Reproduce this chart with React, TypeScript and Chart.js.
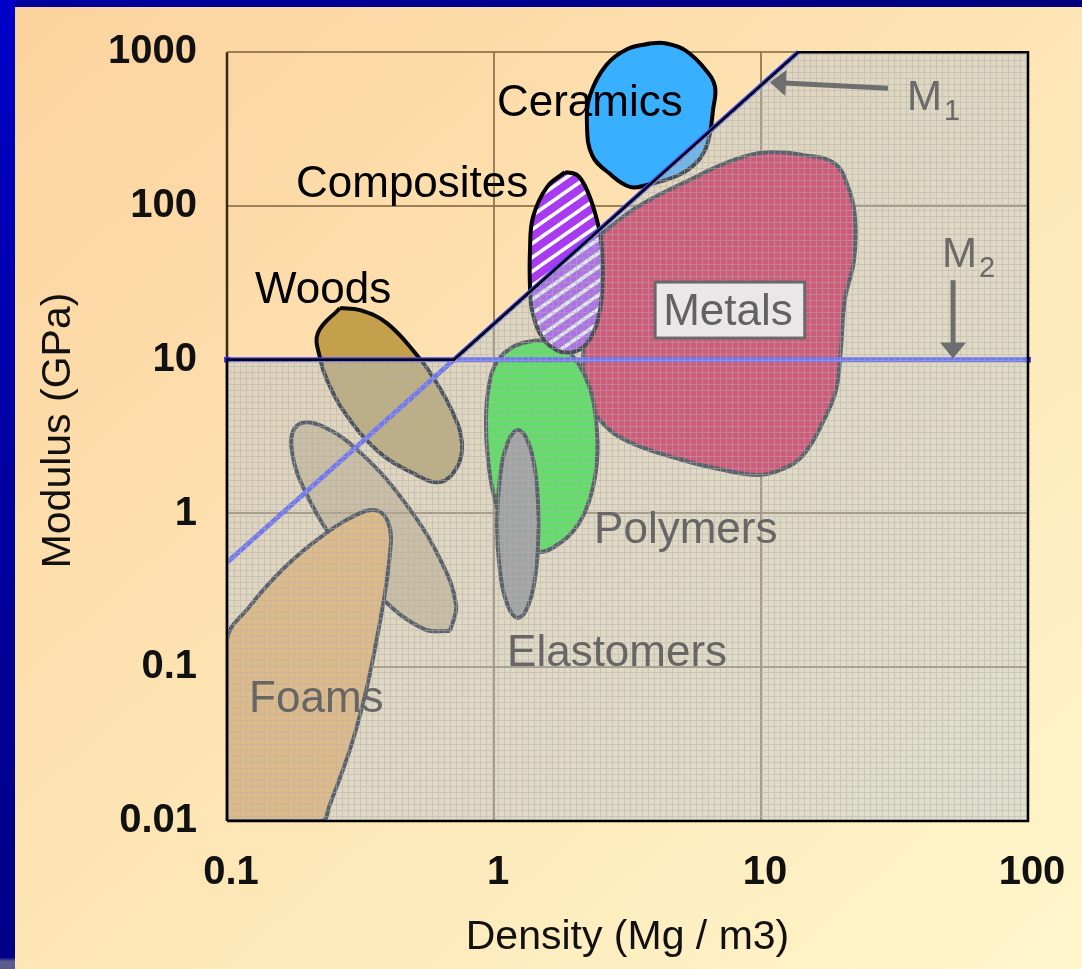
import { useEffect, useRef } from 'react';
import { Chart, registerables } from 'chart.js';

Chart.register(...registerables);

// ---------- axis ticks ----------
const xTicks = [0.1, 1, 10, 100];
const xTickLabels = ['0.1', '1', '10', '100'];
const yTicks = [0.01, 0.1, 1, 10, 100, 1000];
const yTickLabels = ['0.01', '0.1', '1', '10', '100', '1000'];

// ---------- material regions: [density (Mg/m3), modulus (GPa)] ----------
const ceramics: [number, number][] = [
  [3.87, 1144], [4.37, 1144], [5.19, 1030], [6.22, 764], [6.73, 592], [6.61, 420], [6.44, 297],
  [6.22, 238], [5.76, 193], [4.93, 159], [3.74, 137], [3.23, 133], [2.7, 163], [2.33, 214],
  [2.23, 335], [2.29, 525], [2.63, 823], [3.15, 1046],
];
const composites: [number, number][] = [
  [1.845, 166], [1.579, 132.5], [1.4, 84.6], [1.364, 51.6], [1.364, 29.6], [1.388, 21.0],
  [1.513, 14.0], [1.722, 11.5], [1.976, 11.2], [2.23, 12.8], [2.43, 17.3], [2.54, 27.1],
  [2.54, 51.6], [2.43, 80.9], [2.23, 126.7], [2.05, 158.6],
];
const woods: [number, number][] = [
  [0.265, 21.7], [0.219, 14.9], [0.223, 10.24], [0.237, 7.37], [0.272, 4.7], [0.364, 2.58],
  [0.497, 1.83], [0.628, 1.6], [0.727, 2.0], [0.759, 2.87], [0.702, 4.5], [0.591, 7.71],
  [0.515, 10.7], [0.397, 17.3], [0.315, 21.0],
];
const woodsAcross: [number, number][] = [
  [0.684, 0.172], [0.547, 0.177], [0.387, 0.273], [0.27, 0.561], [0.201, 1.28], [0.175, 2.55],
  [0.184, 3.76], [0.231, 3.65], [0.326, 2.36], [0.468, 1.15], [0.628, 0.505], [0.721, 0.254],
];
const foams: [number, number][] = [
  [0.1, 0.01], [0.1, 0.15], [0.121, 0.246], [0.1635, 0.442], [0.227, 0.713], [0.315, 1.006],
  [0.368, 1.04], [0.401, 0.879], [0.411, 0.642], [0.377, 0.212], [0.307, 0.0415],
  [0.241, 0.0123], [0.227, 0.01],
];
const polymers: [number, number][] = [
  [1.449, 13.4], [1.692, 12.8], [1.96, 10.7], [2.25, 7.05], [2.41, 4.05], [2.43, 2.16],
  [2.27, 1.2], [2.01, 0.792], [1.678, 0.605], [1.487, 0.561], [1.273, 0.596], [1.119, 0.78],
  [1.009, 1.22], [0.95, 2.22], [0.933, 4.05], [0.958, 6.84], [1.035, 9.94], [1.199, 12.3],
];
const elastomers: [number, number][] = [
  [1.474, 0.853], [1.436, 1.725], [1.346, 2.87], [1.23, 3.49], [1.124, 2.87], [1.053, 1.725],
  [1.026, 0.853], [1.053, 0.422], [1.124, 0.254], [1.23, 0.209], [1.346, 0.254], [1.436, 0.422],
];
const metals: [number, number][] = [
  [2.54, 66.5], [3.43, 98.2], [5.37, 147], [7.92, 199], [10.7, 224], [14.4, 214], [18.8, 190],
  [21.2, 133], [22.5, 84.6], [22.3, 44.4], [20.6, 24.4], [19.9, 11.5], [19.1, 6.34], [17.2, 4.05],
  [14.4, 2.4], [12.0, 1.94], [9.74, 1.78], [7.02, 1.94], [4.93, 2.26], [3.15, 2.96], [2.49, 4.05],
  [2.19, 6.34], [2.19, 15.6], [2.33, 38.2],
];

// ---------- selection lines ----------
const m1Line: [number, number][] = [[0.1, 0.48], [13.8, 1000]];
const m2Line: [number, number][] = [[0.1, 10], [100, 10]];
const shadedRegion: [number, number][] = [
  [0.1, 0.01], [0.1, 10], [0.708, 10], [13.8, 1000], [100, 1000], [100, 0.01],
];

// ---------- text annotations (data coordinates) ----------
const BLACK = '#000000';
const GREY = '#666666';
const regionLabels = [
  { text: 'Ceramics', x: 1.026, y: 384, color: BLACK },
  { text: 'Composites', x: 0.1813, y: 114, color: BLACK },
  { text: 'Woods', x: 0.1273, y: 23.3, color: BLACK },
  { text: 'Polymers', x: 2.37, y: 0.642, color: GREY },
  { text: 'Elastomers', x: 1.119, y: 0.1018, color: GREY },
  { text: 'Foams', x: 0.121, y: 0.0511, color: GREY },
];
const metalsLabel = { text: 'Metals', x: 4.3, y: 16.8 };
const m1Label = { text: 'M', sub: '1', x: 35.2, y: 420 };
const m2Label = { text: 'M', sub: '2', x: 47.6, y: 40.0 };
const m1Arrow = { from: [29.9, 583], to: [10.8, 638] };
const m2Arrow = { from: [52.4, 32.9], to: [52.4, 10.2] };

const FONT = '"Liberation Sans", Arial, Helvetica, sans-serif';

const toXY = (pts: [number, number][]) => pts.map(([x, y]) => ({ x, y }));
const closed = (pts: [number, number][]) => {
  const p = toXY(pts);
  return [...p, { ...p[0] }];
};

function makeHatch(): CanvasPattern | string {
  const c = document.createElement('canvas');
  c.width = 6;
  c.height = 6;
  const g = c.getContext('2d');
  if (!g) return 'rgba(180,196,212,0.4)';
  g.fillStyle = 'rgba(180,196,212,0.4)';
  g.fillRect(0, 0, 6, 6);
  g.fillStyle = 'rgba(176,176,176,0.5)';
  g.fillRect(0, 0, 6, 1);
  g.fillRect(0, 1, 1, 5);
  return g.createPattern(c, 'repeat') || 'rgba(180,196,212,0.4)';
}

function makeStripes(): CanvasPattern | string {
  const w = 20, h = 14;
  const c = document.createElement('canvas');
  c.width = w;
  c.height = h;
  const g = c.getContext('2d');
  if (!g) return 'rgb(168,58,240)';
  g.fillStyle = 'rgb(168,58,240)';
  g.fillRect(0, 0, w, h);
  g.strokeStyle = '#ffffff';
  g.lineWidth = 3.5;
  for (const dx of [-w, 0, w]) {
    for (const dy of [-h, 0, h]) {
      g.beginPath();
      g.moveTo(dx, h + dy);
      g.lineTo(w + dx, dy);
      g.stroke();
    }
  }
  return g.createPattern(c, 'repeat') || 'rgb(168,58,240)';
}

const gridPlugin = {
  id: 'manualGrid',
  beforeDatasetsDraw(chart: any) {
    const { ctx } = chart;
    const xs = chart.scales.x;
    const ys = chart.scales.y;
    const top = ys.getPixelForValue(1000);
    const bottom = ys.getPixelForValue(0.01);
    const left = xs.getPixelForValue(0.1);
    const right = xs.getPixelForValue(100);
    ctx.save();
    ctx.lineWidth = 2;
    for (const v of yTicks) {
      const p = Math.round(ys.getPixelForValue(v));
      ctx.strokeStyle = 'rgba(140,112,72,0.85)';
      ctx.beginPath();
      ctx.moveTo(left, p);
      ctx.lineTo(right, p);
      ctx.stroke();
    }
    for (const v of xTicks) {
      const p = Math.round(xs.getPixelForValue(v));
      ctx.strokeStyle = v === 0.1 ? '#3a2a14' : 'rgba(140,112,72,0.85)';
      ctx.lineWidth = v === 0.1 ? 2.5 : 2;
      ctx.beginPath();
      ctx.moveTo(p, top);
      ctx.lineTo(p, bottom);
      ctx.stroke();
    }
    ctx.restore();
  },
};

function drawArrow(ctx: CanvasRenderingContext2D, x0: number, y0: number, x1: number, y1: number) {
  const dx = x1 - x0, dy = y1 - y0;
  const len = Math.hypot(dx, dy);
  const ux = dx / len, uy = dy / len;
  const hl = 16, hw = 13;
  const bx = x1 - ux * hl, by = y1 - uy * hl;
  ctx.beginPath();
  ctx.moveTo(x0, y0);
  ctx.lineTo(bx + ux * 2, by + uy * 2);
  ctx.stroke();
  ctx.beginPath();
  ctx.moveTo(x1, y1);
  ctx.lineTo(bx - uy * hw, by + ux * hw);
  ctx.lineTo(bx + uy * hw, by - ux * hw);
  ctx.closePath();
  ctx.fill();
}

const annotationPlugin = {
  id: 'annotations',
  afterDatasetsDraw(chart: any) {
    const { ctx } = chart;
    const xs = chart.scales.x;
    const ys = chart.scales.y;
    const px = (v: number) => xs.getPixelForValue(v);
    const py = (v: number) => ys.getPixelForValue(v);
    ctx.save();
    ctx.textAlign = 'left';
    ctx.textBaseline = 'alphabetic';

    // Metals label with box
    ctx.font = `44px ${FONT}`;
    const mx = px(metalsLabel.x);
    const my = py(metalsLabel.y);
    const mw = ctx.measureText(metalsLabel.text).width;
    ctx.fillStyle = 'rgba(236,236,236,0.96)';
    ctx.fillRect(mx - 8, my - 43, mw + 20, 56);
    ctx.strokeStyle = '#6a6a6a';
    ctx.lineWidth = 3;
    ctx.strokeRect(mx - 8, my - 43, mw + 20, 56);
    ctx.fillStyle = '#626262';
    ctx.fillText(metalsLabel.text, mx, my);

    for (const l of regionLabels) {
      ctx.font = `44px ${FONT}`;
      ctx.fillStyle = l.color;
      ctx.fillText(l.text, px(l.x), py(l.y));
    }

    // M1 / M2 labels
    for (const m of [m1Label, m2Label]) {
      const x = px(m.x), y = py(m.y);
      ctx.font = `42px ${FONT}`;
      ctx.fillStyle = '#6a6a6a';
      ctx.fillText(m.text, x, y);
      const w = ctx.measureText(m.text).width;
      ctx.font = `29px ${FONT}`;
      ctx.fillText(m.sub, x + w + 2, y + 10);
    }

    // arrows
    ctx.strokeStyle = '#6e6e6e';
    ctx.fillStyle = '#6e6e6e';
    ctx.lineWidth = 5;
    for (const a of [m1Arrow, m2Arrow]) {
      drawArrow(ctx, px(a.from[0]), py(a.from[1]), px(a.to[0]), py(a.to[1]));
    }
    ctx.restore();
  },
};

export default function App() {
  const ref = useRef<HTMLCanvasElement>(null);

  useEffect(() => {
    const canvas = ref.current;
    if (!canvas) return;
    const hatch = makeHatch();
    const stripes = makeStripes();

    const blob = (label: string, pts: [number, number][], fill: any, border: string, order: number, extra: any = {}) => ({
      label,
      data: closed(pts),
      showLine: true,
      fill: 'shape',
      backgroundColor: fill,
      borderColor: border,
      borderWidth: 4,
      tension: 0.4,
      pointRadius: 0,
      pointHoverRadius: 0,
      borderJoinStyle: 'round',
      order,
      ...extra,
    });

    const invisibleGrid = (len: number) => ({
      display: true,
      drawOnChartArea: false,
      drawTicks: true,
      tickLength: len,
      color: 'rgba(0,0,0,0)',
    });

    const chart = new Chart(canvas, {
      type: 'scatter',
      data: {
        datasets: [
          blob('Metals', metals, 'rgb(226,22,62)', '#222222', 12),
          blob('Woods', woods, 'rgba(190,152,65,0.9)', '#0a0a0a', 11),
          blob('Woods (across grain)', woodsAcross, 'rgba(185,155,95,0.55)', '#222222', 10),
          blob('Foams', foams, 'rgb(252,180,88)', '#222222', 9),
          blob('Polymers', polymers, 'rgb(40,242,30)', '#222222', 8),
          blob('Elastomers', elastomers, 'rgb(150,143,130)', '#222222', 7),
          blob('Composites', composites, stripes, '#000000', 6),
          blob('Ceramics', ceramics, 'rgb(56,176,255)', '#000000', 5, { clip: false }),
          {
            label: 'M1',
            data: toXY(m1Line),
            showLine: true,
            fill: false,
            borderColor: 'rgb(70,70,255)',
            borderWidth: 5,
            pointRadius: 0,
            order: 4,
          },
          {
            label: 'M2',
            data: toXY(m2Line),
            showLine: true,
            fill: false,
            borderColor: 'rgb(70,70,255)',
            backgroundColor: 'rgb(40,40,255)',
            borderWidth: 5,
            pointRadius: 4,
            pointStyle: 'rect',
            pointBorderWidth: 0,
            clip: false,
            order: 3,
          },
          {
            label: 'Selected region',
            data: closed(shadedRegion),
            showLine: true,
            fill: 'shape',
            backgroundColor: hatch,
            borderColor: '#000000',
            borderWidth: 2.5,
            tension: 0,
            pointRadius: 0,
            clip: false,
            order: 2,
          },
        ] as any,
      },
      options: {
        responsive: false,
        animation: false,
        devicePixelRatio: 1,
        events: [],
        layout: { padding: { top: 40, right: 54, left: 0, bottom: 0 } },
        plugins: {
          legend: { display: false },
          tooltip: { enabled: false },
          title: { display: false },
        },
        scales: {
          x: {
            type: 'logarithmic',
            position: 'bottom',
            min: 0.1,
            max: 100,
            afterBuildTicks: (s: any) => {
              s.ticks = xTicks.map((v) => ({ value: v }));
            },
            afterFit: (s: any) => {
              s.height = 148;
            },
            grid: invisibleGrid(28),
            border: { display: false },
            ticks: {
              callback: (_v: any, i: number) => xTickLabels[i],
              font: { family: FONT, size: 40, weight: 'bold' },
              color: '#111111',
              padding: 0,
              labelOffset: 4,
              maxRotation: 0,
              autoSkip: false,
            },
            title: {
              display: true,
              text: 'Density (Mg / m3)',
              font: { family: FONT, size: 41 },
              color: '#111111',
              padding: { top: 0, bottom: 7 },
            },
          },
          y: {
            type: 'logarithmic',
            position: 'left',
            min: 0.01,
            max: 1200,
            afterBuildTicks: (s: any) => {
              s.ticks = yTicks.map((v) => ({ value: v }));
            },
            afterFit: (s: any) => {
              s.width = 227;
            },
            grid: invisibleGrid(30),
            border: { display: false },
            ticks: {
              callback: (_v: any, i: number) => yTickLabels[i],
              font: { family: FONT, size: 40, weight: 'bold' },
              color: '#111111',
              padding: 0,
              autoSkip: false,
            },
            title: {
              display: true,
              text: 'Modulus (GPa)',
              font: { family: FONT, size: 41 },
              color: '#111111',
              padding: { top: 34, bottom: 0 },
            },
          },
        },
      } as any,
      plugins: [gridPlugin, annotationPlugin],
    });

    return () => chart.destroy();
  }, []);

  return (
    <div
      style={{
        position: 'fixed',
        left: 0,
        top: 0,
        width: 1082,
        height: 969,
        overflow: 'hidden',
        background: 'linear-gradient(to bottom right, #FCD29E 0%, #FDE3B2 45%, #FFF6CB 100%)',
      }}
    >
      <canvas ref={ref} width={1082} height={969} style={{ position: 'absolute', left: 0, top: 0 }} />
      <div
        style={{
          position: 'absolute',
          left: 0,
          top: 0,
          width: 1082,
          height: 7,
          background: 'linear-gradient(to right, #0000A0, #00007E)',
        }}
      />
      <div
        style={{
          position: 'absolute',
          left: 0,
          top: 0,
          width: 15,
          height: 969,
          background: 'linear-gradient(to bottom, #0000C8 0%, #0000A0 50%, #000088 98.8%, #5a5a8c 99.2%)',
        }}
      />
    </div>
  );
}
